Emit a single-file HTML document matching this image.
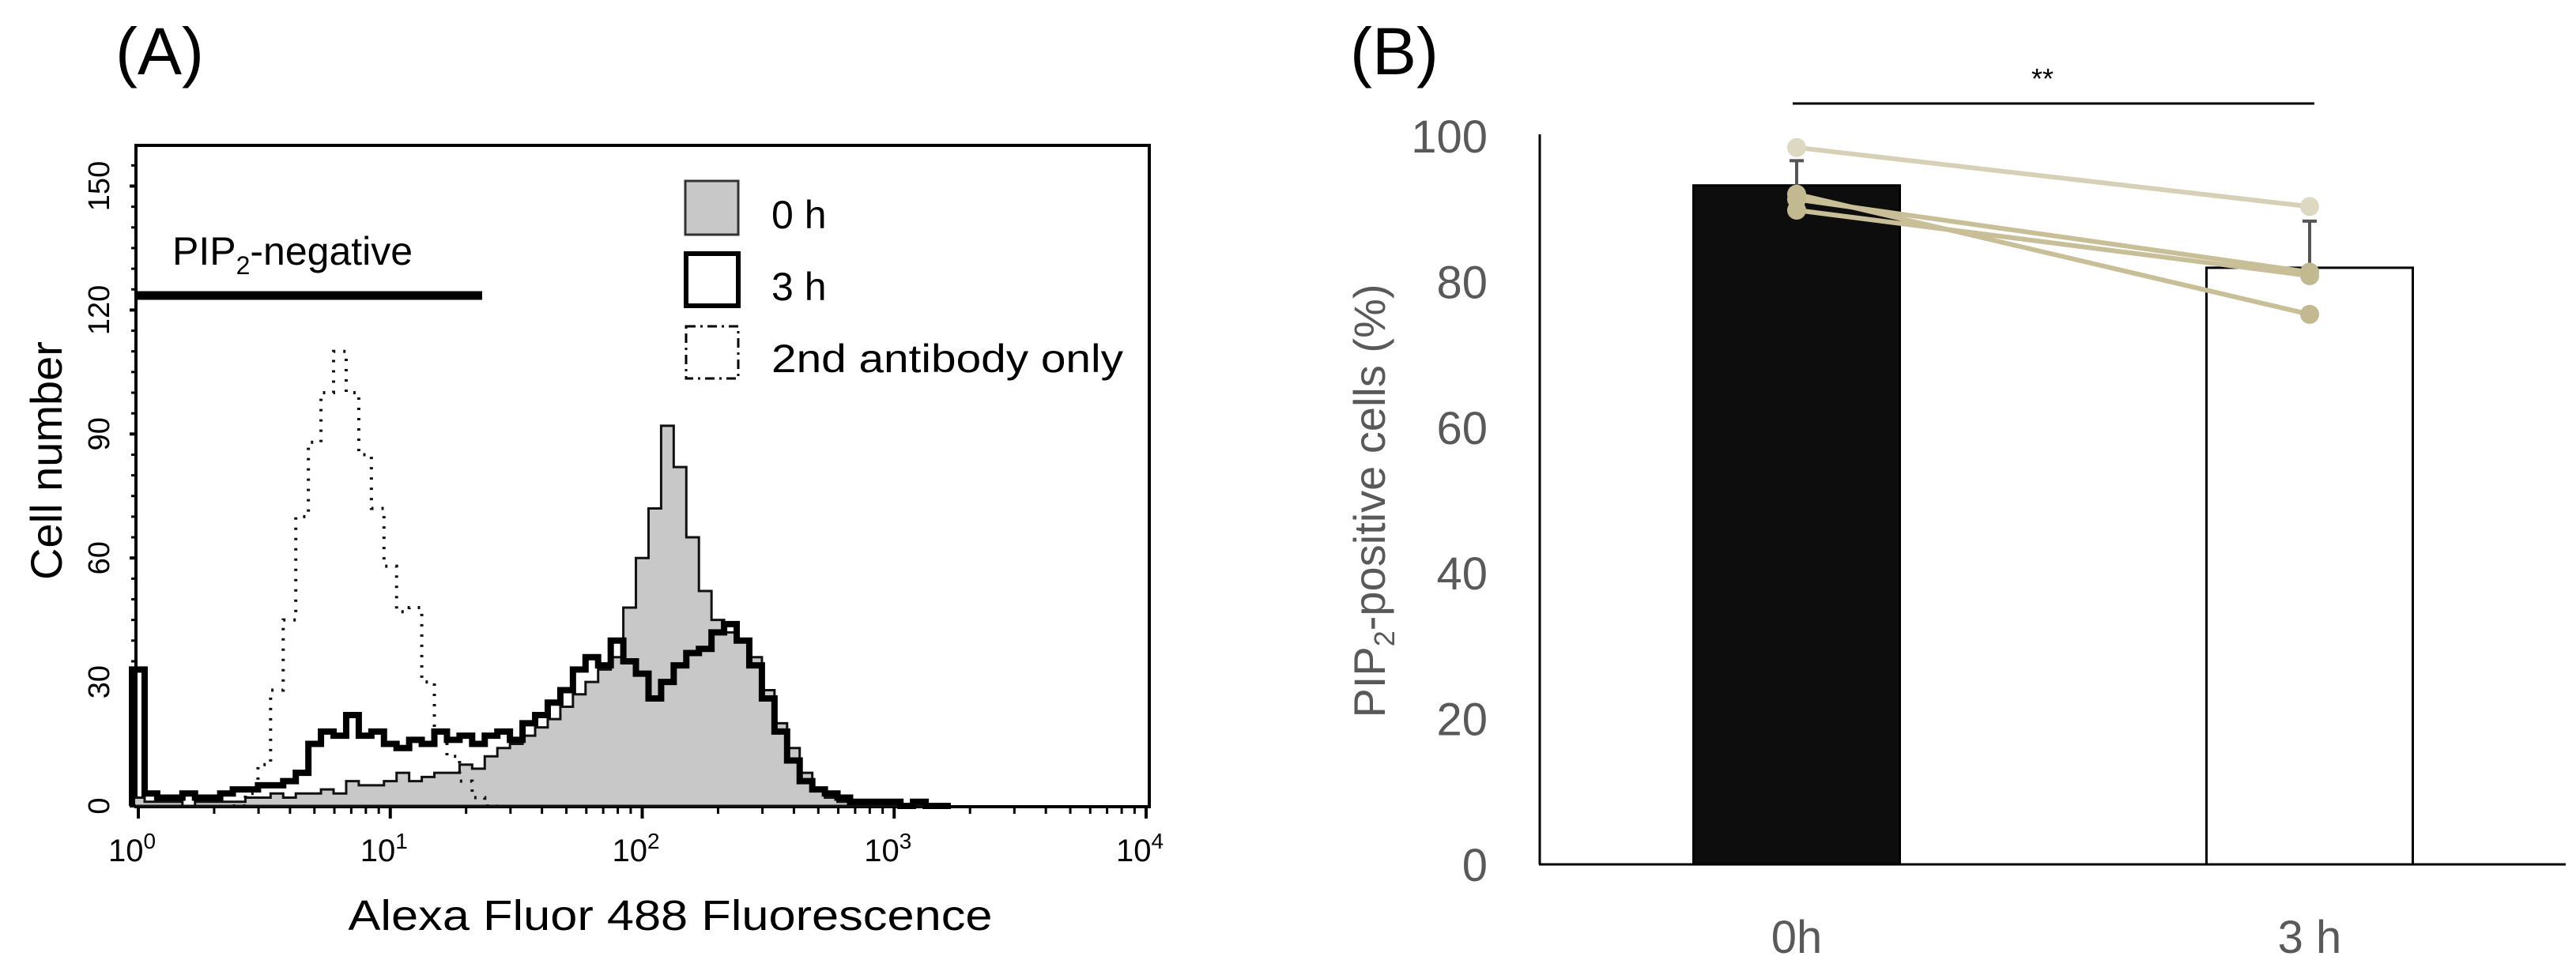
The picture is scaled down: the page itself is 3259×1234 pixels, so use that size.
<!DOCTYPE html>
<html><head><meta charset="utf-8"><style>
html,body{margin:0;padding:0;background:#fff;}
svg{display:block;}
text{font-family:"Liberation Sans",sans-serif;}
</style></head><body>
<svg id="fig" width="3259" height="1234" viewBox="0 0 3259 1234" xmlns="http://www.w3.org/2000/svg">
<rect width="3259" height="1234" fill="#fff"/>
<g id="panelA">
  <text x="146" y="94" font-size="84">(A)</text>
  <rect x="172" y="184" width="1282" height="837" fill="none" stroke="#000" stroke-width="4"/>
  <g id="hists"></g>
  <g id="axA"></g>
  <text transform="translate(78,583) rotate(-90)" text-anchor="middle" font-size="56">Cell number</text>
  <text x="848" y="1177" text-anchor="middle" font-size="54" textLength="815" lengthAdjust="spacingAndGlyphs">Alexa Fluor 488 Fluorescence</text>
  <line x1="172" y1="374" x2="610" y2="374" stroke="#000" stroke-width="11"/>
  <text x="218" y="335" font-size="50">PIP<tspan font-size="32" dy="12">2</tspan><tspan dy="-12">-negative</tspan></text>
  <g>
    <rect x="867" y="229" width="67" height="68" fill="#c8c8c8" stroke="#333" stroke-width="3"/>
    <text x="976" y="289" font-size="50">0 h</text>
    <rect x="868" y="321" width="66" height="66" fill="#fff" stroke="#000" stroke-width="6"/>
    <text x="976" y="380" font-size="50">3 h</text>
    <rect x="868" y="413" width="66" height="66" fill="none" stroke="#000" stroke-width="3" stroke-dasharray="12,6,3,6"/>
    <text x="976" y="471" font-size="50" textLength="445" lengthAdjust="spacingAndGlyphs">2nd antibody only</text>
  </g>
</g>
<g id="panelB">
  <text x="1708" y="94" font-size="84">(B)</text>
  <g id="barsB"></g>
  <text transform="translate(1752,634) rotate(-90)" text-anchor="middle" font-size="56" fill="#595959">PIP<tspan font-size="36" dy="12">2</tspan><tspan dy="-12">-positive cells (%)</tspan></text>
  <line x1="2268" y1="131" x2="2928" y2="131" stroke="#000" stroke-width="3"/>
  <text x="2584" y="112" text-anchor="middle" font-size="36">**</text>
</g>
</svg>
<script>
// ---------- Panel A data ----------
const logBins = [0,0.05,0.1,0.15,0.2,0.25,0.3,0.35,0.4,0.45,0.5,0.55,0.6,0.65,0.7,0.75,0.8,0.85,0.9,0.95,1.0,1.05,1.1,1.15,1.2,1.25,1.3,1.35,1.4,1.45,1.5,1.55,1.6,1.65,1.7,1.75,1.8,1.85,1.9,1.95,2.0,2.05,2.1,2.15,2.2,2.25,2.3,2.35,2.4,2.45,2.5,2.55,2.6,2.65,2.7,2.75,2.8,2.85,2.9,2.95,3.0,3.05,3.1,3.15,3.2];
const counts0h = [2,1,1,1,0,1,1,1,1,2,2,3,2,3,3,4,3,6,5,5,6,8,6,7,8,8,10,9,12,14,15,17,19,21,24,27,30,33,36,48,60,72,92,82,65,52,45,42,40,36,28,20,14,8,4,2,1,1,0,0,0,0,0,0,0];
const counts3h = [33,3,2,2,3,2,2,3,4,4,5,5,6,8,15,18,17,22,17,18,15,14,16,15,18,16,17,15,17,18,16,20,22,25,28,33,36,34,40,35,32,26,30,34,37,38,42,44,40,34,26,18,11,6,4,3,2,1,1,1,1,0,1,0,0];
const logBins2nd = [0.4,0.45,0.5,0.55,0.6,0.65,0.7,0.75,0.8,0.85,0.9,0.95,1.0,1.05,1.1,1.15,1.2,1.25,1.3,1.35,1.4];
const counts2nd = [0,3,10,28,45,70,88,100,110,100,85,72,58,47,48,30,18,12,6,2,0];
const yTicksA = [0,30,60,90,120,150];
const xDecades = [0,1,2,3,4];
// ---------- Panel B data ----------
const groups = ["0h","3 h"];
const means = [93.2,81.9];
const errs = [3.4,6.4];
const pairs0 = [98.4,92.0,91.3,89.8];
const pairs3 = [90.3,75.5,81.3,80.8];
const yTicksB = [0,20,40,60,80,100];

const NS="http://www.w3.org/2000/svg";
function mk(tag, attrs, parent){const e=document.createElementNS(NS,tag);for(const k in attrs)e.setAttribute(k,attrs[k]);parent.appendChild(e);return e;}
const xA = l => 175 + l*318.75;
const yA = v => 1020 - v*5.23;
const hw = 0.025;
function stepPath(bins, vals){
  let d = "M"+xA(bins[0]-hw)+","+yA(0);
  for(let i=0;i<bins.length;i++){d+=" L"+xA(bins[i]-hw)+","+yA(vals[i])+" L"+xA(bins[i]+hw)+","+yA(vals[i]);}
  d+=" L"+xA(bins[bins.length-1]+hw)+","+yA(0);
  return d;
}
const hg=document.getElementById('hists');
let p=mk('path',{d:stepPath(logBins,counts0h)+" Z",fill:"#c8c8c8",stroke:"#111","stroke-width":3},hg);


p=mk('path',{d:stepPath(logBins2nd,counts2nd),fill:"none",stroke:"#111","stroke-width":4,"stroke-dasharray":"3,10"},hg);


p=mk('path',{d:stepPath(logBins,counts3h),fill:"none",stroke:"#000","stroke-width":8,"stroke-linejoin":"miter"},hg);



const ax=document.getElementById('axA');
yTicksA.forEach(v=>{
  const l=mk('line',{x1:164,x2:172,y1:yA(v),y2:yA(v),stroke:"#000","stroke-width":4},ax);
  
  
  const t=mk('text',{transform:`translate(138,${yA(v)}) rotate(-90)`,"text-anchor":"middle","font-size":38},ax);
  t.textContent=v;
  
  
});
for(let v=5;v<=155;v+=5){ if(v%30) mk('line',{x1:166,x2:172,y1:yA(v),y2:yA(v),stroke:"#000","stroke-width":3},ax); }
xDecades.forEach(d=>{
  const l=mk('line',{x1:xA(d),x2:xA(d),y1:1021,y2:1036,stroke:"#000","stroke-width":4},ax);
  
  
  if(d<4) for(let m=2;m<10;m++){const x=xA(d+Math.log10(m));mk('line',{x1:x,x2:x,y1:1021,y2:1030,stroke:"#000","stroke-width":3},ax);}
  const t=mk('text',{x:xA(d)-8,y:1090,"text-anchor":"middle","font-size":40},ax);
  t.innerHTML='10<tspan font-size="28" dy="-16">'+d+'</tspan>';
  
  
});

// ---------- Panel B ----------
const bg=document.getElementById('barsB');
const yB = v => 1094 - v*9.22;
const xCenters=[2273,2922];
const barW=261;
means.forEach((m,i)=>{
  const r=mk('rect',{x:xCenters[i]-barW/2,y:yB(m),width:barW,height:yB(0)-yB(m),fill:i==0?"#0d0d0d":"#fff",stroke:"#000","stroke-width":3},bg);
  
  
  const e=mk('line',{x1:xCenters[i],x2:xCenters[i],y1:yB(m),y2:yB(m+errs[i]),stroke:"#555","stroke-width":4},bg);
  
  
  mk('line',{x1:xCenters[i]-9,x2:xCenters[i]+9,y1:yB(m+errs[i]),y2:yB(m+errs[i]),stroke:"#555","stroke-width":4},bg);
  const t=mk('text',{x:xCenters[i],y:1206,"text-anchor":"middle","font-size":58,fill:"#595959"},bg);
  t.textContent=groups[i];
  
  
});
pairs0.forEach((v,i)=>{
  const l=mk('line',{x1:xCenters[0],y1:yB(v),x2:xCenters[1],y2:yB(pairs3[i]),stroke:i==0?"#d6d0b6":"#c8bf98","stroke-width":6},bg);
  
  
});
pairs0.forEach((v,i)=>{
  const c=i==0?"#ddd8c2":"#c3b990";
  let a=mk('circle',{cx:xCenters[0],cy:yB(v),r:12,fill:c},bg);
  
  
  a=mk('circle',{cx:xCenters[1],cy:yB(pairs3[i]),r:12,fill:c},bg);
  
  
});
let axl=mk('line',{x1:1948,y1:yB(100)-2,x2:1948,y2:yB(0),stroke:"#000","stroke-width":3},bg);


axl=mk('line',{x1:1947,y1:yB(0),x2:3246,y2:yB(0),stroke:"#000","stroke-width":3},bg);


yTicksB.forEach(v=>{
  const t=mk('text',{x:1882,y:yB(v)+21,"text-anchor":"end","font-size":58,fill:"#595959"},bg);
  t.textContent=v;
  
  
});
</script>
</body></html>
